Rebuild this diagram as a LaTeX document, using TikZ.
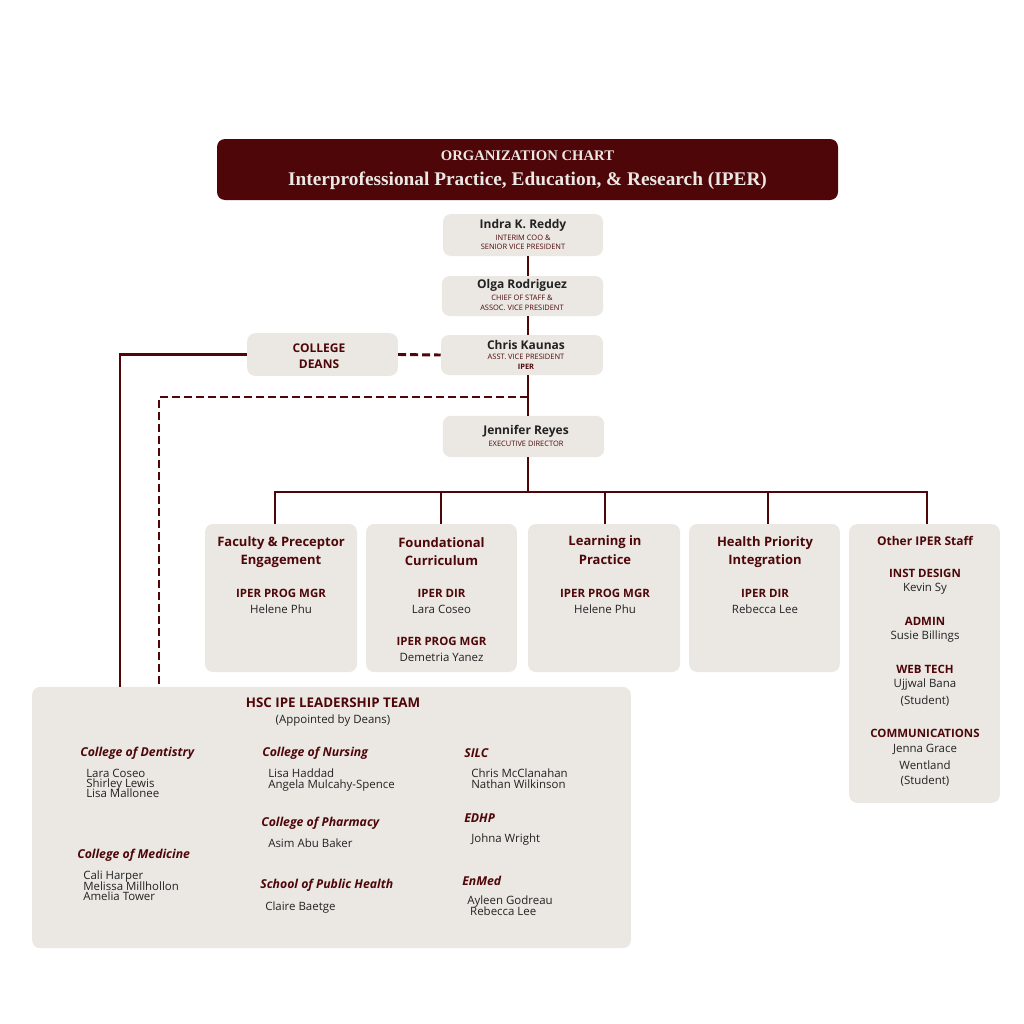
\documentclass[tikz,border=0pt]{standalone}
\usepackage{fontspec}
\setmainfont{Open Sans}
\newfontfamily\titlefont{Liberation Serif}
\definecolor{dred}{HTML}{4E0609}
\definecolor{boxfill}{HTML}{EBE8E3}
\definecolor{txt}{HTML}{222222}
\newcommand{\fsz}[1]{\fontsize{#1}{#1}\selectfont}
\begin{document}
\begin{tikzpicture}[x=0.75pt,y=-0.75pt,
  box/.style={fill=boxfill,rounded corners=6pt,inner sep=0pt,draw=none},
  con/.style={draw=dred,line width=2.2pt},
  dcon/.style={draw=dred,line width=2.2pt,dash pattern=on 6pt off 3pt},
  hd/.style={text=dred,font=\bfseries\fsz{9.75},align=center,inner sep=0pt},
  sub/.style={text=dred,font=\bfseries\fsz{8.6},align=center,inner sep=0pt},
  nm/.style={text=txt,font=\fsz{8.6},align=center,inner sep=0pt},
  tiny/.style={text=dred,font=\fsz{5.6},align=center,inner sep=0pt},
  pname/.style={text=txt,font=\bfseries\fsz{9},inner sep=0pt},
  col/.style={text=dred,font=\bfseries\itshape\fsz{9.2},anchor=west,inner sep=0pt},
  lst/.style={text=txt,font=\fsz{8.6},anchor=north west,align=left,inner sep=0pt}]
\useasboundingbox[fill=white] (0,0) rectangle (1024,1024);
% title
\fill[dred,rounded corners=6pt] (217,139) rectangle (838,200);
\node[text=boxfill,font=\titlefont\bfseries\fsz{11}] (t1) at (527.5,156) {ORGANIZATION CHART};
\node[text=boxfill,font=\titlefont\bfseries\fsz{14.5}] (t2) at (527.5,181) {Interprofessional Practice, Education, \& Research (IPER)};
% top boxes
\node[box,minimum width=120pt,minimum height=31.5pt] (indra) at (523,235) {};
\node[box,minimum width=121pt,minimum height=30pt] (olga) at (522.5,296) {};
\node[box,minimum width=121.5pt,minimum height=30pt] (chris) at (522,355) {};
\node[box,minimum width=113pt,minimum height=32pt] (deans) at (322.5,354.5) {};
\node[box,minimum width=121pt,minimum height=31pt] (jen) at (523.5,436.5) {};
\node[pname] at (523,225) {Indra K. Reddy};
\node[tiny] at (523,238) {INTERIM COO \&};
\node[tiny] at (523,247) {SENIOR VICE PRESIDENT};
\node[pname] at (522,285) {Olga Rodriguez};
\node[tiny] at (522,298) {CHIEF OF STAFF \&};
\node[tiny] at (522,308) {ASSOC. VICE PRESIDENT};
\node[pname] at (526,345) {Chris Kaunas};
\node[tiny] at (526,357) {ASST. VICE PRESIDENT};
\node[tiny,font=\bfseries\fsz{5.6}] at (526,367) {IPER};
\node[hd,font=\bfseries\fsz{9}] at (319,348) {COLLEGE};
\node[hd,font=\bfseries\fsz{9}] at (319,364) {DEANS};
\node[pname] at (526,431) {Jennifer Reyes};
\node[tiny] at (526,444) {EXECUTIVE DIRECTOR};
% dept boxes
\node[box,minimum width=114pt,minimum height=111pt] (fac) at (281,598) {};
\node[box,minimum width=113pt,minimum height=111pt] (fou) at (441.5,598) {};
\node[box,minimum width=114pt,minimum height=111pt] (lea) at (604,598) {};
\node[box,minimum width=113pt,minimum height=111pt] (hea) at (764.5,598) {};
\node[box,minimum width=113pt,minimum height=209pt] (oth) at (924.5,663.5) {};
\node[box,minimum width=449pt,minimum height=196pt] (hsc) at (331.5,817.5) {};
% connectors
\coordinate (jb) at (528,492);
\coordinate (jx) at (528,397);
\draw[con] (528,256) -- (528,276);
\draw[con] (528,316) -- (528,335);
\draw[con] (528,375) -- (528,416);
\draw[con] (528,457) -- (jb);
\draw[con] (275,524) -- (275,492) -- (927,492) -- (927,524);
\draw[con] (441,492) -- (441,524);
\draw[con] (605,492) -- (605,524);
\draw[con] (768,492) -- (768,524);
\draw[dcon] (deans.east) -- (chris.west);
\draw[con] (deans.west) -- (120,354.5) -- (120,687);
\draw[dcon] (jx) -- (159,397) -- (159,687);
% dept text
\node[hd] at (281,543) {Faculty \& Preceptor};
\node[hd] at (281,561) {Engagement};
\node[sub] at (281,593) {IPER PROG MGR};
\node[nm] at (281,609) {Helene Phu};
\node[hd] at (441.5,543) {Foundational};
\node[hd] at (441.5,561) {Curriculum};
\node[sub] at (441.5,593) {IPER DIR};
\node[nm] at (441.5,609) {Lara Coseo};
\node[sub] at (441.5,641) {IPER PROG MGR};
\node[nm] at (441.5,657) {Demetria Yanez};
\node[hd] at (605,542) {Learning in};
\node[hd] at (605,560) {Practice};
\node[sub] at (605,593) {IPER PROG MGR};
\node[nm] at (605,609) {Helene Phu};
\node[hd] at (765,543) {Health Priority};
\node[hd] at (765,561) {Integration};
\node[sub] at (765,593) {IPER DIR};
\node[nm] at (765,609) {Rebecca Lee};
\node[hd,font=\bfseries\fsz{9}] at (925,541) {Other IPER Staff};
\node[sub] at (925,573) {INST DESIGN};
\node[nm] at (925,589) {Kevin Sy};
\node[sub] at (925,621) {ADMIN};
\node[nm] at (925,637) {Susie Billings};
\node[sub] at (925,669) {WEB TECH};
\node[nm] at (925,685) {Ujjwal Bana};
\node[nm] at (925,701) {(Student)};
\node[sub] at (925,733) {COMMUNICATIONS};
\node[nm] at (925,749) {Jenna Grace};
\node[nm] at (925,765) {Wentland};
\node[nm] at (925,781) {(Student)};
% HSC text
\node[hd,font=\bfseries\fsz{10}] at (333,703) {HSC IPE LEADERSHIP TEAM};
\node[nm] at (333,721) {(Appointed by Deans)};
\node[col] at (80,753) {College of Dentistry};
\node[lst] at (86,769) {Lara Coseo\\[-1pt]Shirley Lewis\\[-1pt]Lisa Mallonee};
\node[col] at (77,855) {College of Medicine};
\node[lst] at (83,871) {Cali Harper\\[-1pt]Melissa Millhollon\\[-1pt]Amelia Tower};
\node[col] at (262,753) {College of Nursing};
\node[lst] at (268,769) {Lisa Haddad\\[-1pt]Angela Mulcahy-Spence};
\node[col] at (261,823) {College of Pharmacy};
\node[lst] at (268,839) {Asim Abu Baker};
\node[col] at (260,885) {School of Public Health};
\node[lst] at (265,902) {Claire Baetge};
\node[col] at (464,753) {SILC};
\node[lst] at (471,769) {Chris McClanahan\\[-1pt]Nathan Wilkinson};
\node[col] at (464,818) {EDHP};
\node[lst] at (471,834) {Johna Wright};
\node[col] at (462,881) {EnMed};
\node[lst] at (467,896) {Ayleen Godreau\\[-1pt]\hspace*{2.2pt}Rebecca Lee};
\end{tikzpicture}
\end{document}
